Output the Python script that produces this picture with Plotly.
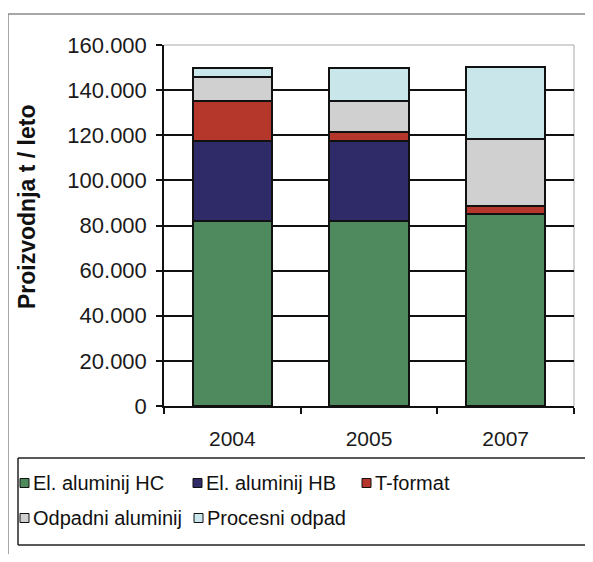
import plotly.graph_objects as go

# ---- data ----
years = ["2004", "2005", "2007"]
el_aluminij_hc = [82100, 82100, 85200]
el_aluminij_hb = [35400, 35400, 0]
t_format = [17800, 4000, 3600]
odpadni_aluminij = [10300, 13800, 29700]
procesni_odpad = [4100, 14400, 31700]

series_names = ["El. aluminij HC", "El. aluminij HB", "T-format",
                "Odpadni aluminij", "Procesni odpad"]
series_values = [el_aluminij_hc, el_aluminij_hb, t_format,
                 odpadni_aluminij, procesni_odpad]
colors = ["#4f8a5f", "#2e2b68", "#b5372b", "#d0d0d0", "#c9e6ea"]

y_title = "Proizvodnja t / leto"
y_ticks = [0, 20000, 40000, 60000, 80000, 100000, 120000, 140000, 160000]

# ---- layout geometry (pixels, page coordinates) ----
OFF = 8  # page body margin
W, H = 593 - OFF, 562 - 2 * OFF
PL, PR, PT, PB = 164, 574, 45, 406  # plot area in page coords
ML, MT = PL - OFF, PT - OFF
MR, MB = W - (PR - OFF), H - (PB - OFF)
PW, PH = PR - PL, PB - PT


def px_x(x):
    return (x - PL) / PW


def px_y(y):
    return (PB - y) / PH


def line(x0, y0, x1, y1, color, width):
    return dict(type="line", xref="paper", yref="paper",
                x0=px_x(x0), y0=px_y(y0), x1=px_x(x1), y1=px_y(y1),
                line=dict(color=color, width=width), layer="below")


FONT = "Arial, Liberation Sans, sans-serif"

fig = go.Figure()
for name, vals, col in zip(series_names, series_values, colors):
    fig.add_trace(go.Bar(
        x=years, y=vals, name=name,
        marker=dict(color=col, line=dict(color="#111111", width=2)),
        showlegend=False,
    ))

shapes = []
annotations = []

# plot-area border (top/right light gray)
shapes.append(line(PL, PT, PR, PT, "#a8a8a8", 1))
shapes.append(line(PR, PT, PR, PB, "#a8a8a8", 1))
# outer chart frame (top and left edges visible)
shapes.append(line(8, 14, 600, 14, "#8a8a8a", 1.5))
shapes.append(line(8, 14, 8, 570, "#8a8a8a", 1.5))
# legend box (right edge outside the picture)
shapes.append(line(18, 458, 600, 458, "#222222", 1.5))
shapes.append(line(18, 545, 600, 545, "#222222", 1.5))
shapes.append(line(18, 458, 18, 545, "#222222", 1.5))

legend_pos = [(20, 483), (193, 483), (362, 483), (20, 518), (194, 518)]
for (lx, ly), name, col in zip(legend_pos, series_names, colors):
    shapes.append(dict(type="rect", xref="paper", yref="paper",
                       x0=px_x(lx), x1=px_x(lx + 9), y0=px_y(ly + 4.5), y1=px_y(ly - 4.5),
                       fillcolor=col, line=dict(color="#111111", width=1)))
    annotations.append(dict(xref="paper", yref="paper", x=px_x(lx + 11), y=px_y(ly),
                            xanchor="left", yanchor="middle", showarrow=False,
                            text=name, font=dict(family=FONT, size=20, color="#111111")))

annotations.append(dict(xref="paper", yref="paper", x=px_x(27), y=px_y(207),
                        xanchor="center", yanchor="middle", showarrow=False,
                        textangle=-90, text="<b>" + y_title + "</b>",
                        font=dict(family=FONT, size=23, color="#111111")))

fig.update_layout(
    width=W, height=H,
    margin=dict(l=ML, r=MR, t=MT, b=MB, autoexpand=False),
    barmode="stack", bargap=0.42,
    paper_bgcolor="white", plot_bgcolor="white",
    separators=",.",
    font=dict(family=FONT, size=20, color="#1a1a1a"),
    shapes=shapes, annotations=annotations,
    showlegend=False,
    xaxis=dict(type="category", showline=True, linecolor="#111111", linewidth=1.5,
               ticks="outside", tickson="boundaries", ticklen=6, tickcolor="#111111",
               tickwidth=1.5, showgrid=False, ticklabelstandoff=13,
               tickfont=dict(family=FONT, size=21, color="#1a1a1a")),
    yaxis=dict(range=[0, 160000], tickvals=y_ticks, tickformat=",d",
               showline=True, linecolor="#111111", linewidth=1.5,
               ticks="outside", ticklen=6, tickcolor="#111111", tickwidth=1.5,
               showgrid=True, gridcolor="#111111", gridwidth=1.5,
               zeroline=False, ticklabelstandoff=5,
               tickfont=dict(family=FONT, size=22, color="#1a1a1a")),
)

fig.write_html("out.html")
